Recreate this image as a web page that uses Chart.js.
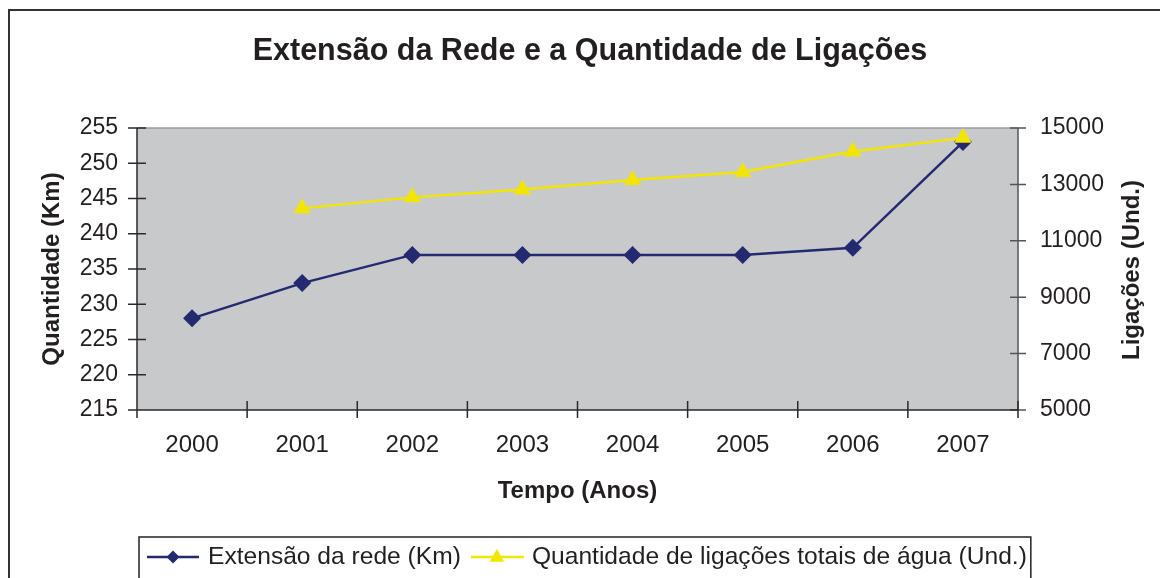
<!DOCTYPE html>
<html>
<head>
<meta charset="utf-8">
<script src="https://cdn.jsdelivr.net/npm/chart.js@4.4.0/dist/chart.umd.min.js"></script>
<style>
  html, body { margin: 0; padding: 0; background: #fff; }
  canvas { display: block; }
</style>
</head>
<body>
<canvas id="chart" width="1160" height="578"></canvas>
<script>
// data
const years = ['2000', '2001', '2002', '2003', '2004', '2005', '2006', '2007'];
const extensaoKm = [228, 233, 237, 237, 237, 237, 238, 253];
const ligacoes = [null, 12150, 12540, 12820, 13160, 13440, 14170, 14650];
const kmRange = [215, 255, 5];
const ligRange = [5000, 15000, 2000];

const FONT = "'Liberation Sans', Arial, sans-serif";
const INK = '#231f20';
const NAVY = '#232a70';
const YELLOW = '#f2e500';

function diamond(ctx, x, y, r) {
  ctx.beginPath();
  ctx.moveTo(x, y - r);
  ctx.lineTo(x + r, y);
  ctx.lineTo(x, y + r);
  ctx.lineTo(x - r, y);
  ctx.closePath();
  ctx.fill();
}

function triangle(ctx, x, y, r) {
  ctx.beginPath();
  ctx.moveTo(x, y - r);
  ctx.lineTo(x + r * 0.9, y + r * 0.6);
  ctx.lineTo(x - r * 0.9, y + r * 0.6);
  ctx.closePath();
  ctx.fill();
}

const frame = {
  id: 'frame',
  beforeDraw(chart) {
    const {ctx, chartArea: a} = chart;
    ctx.save();
    ctx.fillStyle = '#fff';
    ctx.fillRect(0, 0, chart.width, chart.height);
    ctx.fillStyle = '#c8c9cb';
    ctx.fillRect(a.left, a.top, a.right - a.left, a.bottom - a.top);
    // outer chart border
    ctx.strokeStyle = '#333';
    ctx.lineWidth = 2;
    ctx.strokeRect(9, 10, 1200, 700);
    ctx.restore();
  },
  beforeDatasetsDraw(chart) {
    const {ctx, chartArea: a, scales} = chart;
    ctx.save();
    ctx.lineWidth = 1.5;
    // plot border top
    ctx.strokeStyle = '#9a9a9a';
    ctx.beginPath();
    ctx.moveTo(a.left, a.top);
    ctx.lineTo(a.right, a.top);
    ctx.stroke();
    // right axis
    ctx.strokeStyle = '#555';
    ctx.beginPath();
    ctx.moveTo(a.right, a.top);
    ctx.lineTo(a.right, a.bottom);
    scales.y2.ticks.forEach((t, i) => {
      const py = scales.y2.getPixelForTick(i);
      ctx.moveTo(a.right - 8, py);
      ctx.lineTo(a.right + 8, py);
    });
    ctx.stroke();
    // left + bottom axes
    ctx.strokeStyle = '#2a2a2a';
    ctx.beginPath();
    ctx.moveTo(a.left, a.top);
    ctx.lineTo(a.left, a.bottom);
    ctx.lineTo(a.right, a.bottom);
    scales.y.ticks.forEach((t, i) => {
      const py = scales.y.getPixelForTick(i);
      ctx.moveTo(a.left - 9, py);
      ctx.lineTo(a.left + 9, py);
    });
    for (let i = 0; i <= years.length; i++) {
      const px = scales.x.getPixelForValue(i - 0.5);
      ctx.moveTo(px, a.bottom - 9);
      ctx.lineTo(px, a.bottom + 8);
    }
    ctx.stroke();
    ctx.restore();
  },
  afterDraw(chart) {
    const ctx = chart.ctx;
    const ds = chart.data.datasets;
    const a = chart.chartArea;
    ctx.save();

    // right axis title, reads bottom to top like the left one
    ctx.save();
    ctx.translate(1132, (a.top + a.bottom) / 2 + 1);
    ctx.rotate(-Math.PI / 2);
    ctx.font = 'bold 24px ' + FONT;
    ctx.textAlign = 'center';
    ctx.textBaseline = 'middle';
    ctx.fillStyle = INK;
    ctx.fillText('Ligações (Und.)', 0, 0);
    ctx.restore();

    ctx.font = '24.6px ' + FONT;
    ctx.textBaseline = 'middle';
    const y = 557;
    let x = 147;
    // first entry
    ctx.strokeStyle = ds[0].borderColor;
    ctx.lineWidth = 2.5;
    ctx.beginPath(); ctx.moveTo(x, y); ctx.lineTo(x + 52, y); ctx.stroke();
    ctx.fillStyle = ds[0].borderColor;
    diamond(ctx, x + 26, y, 6.5);
    x += 61;
    ctx.fillStyle = INK;
    ctx.fillText(ds[0].label, x, y);
    x += ctx.measureText(ds[0].label).width + 10;
    // second entry
    ctx.strokeStyle = ds[1].borderColor;
    ctx.beginPath(); ctx.moveTo(x, y); ctx.lineTo(x + 53, y); ctx.stroke();
    ctx.fillStyle = ds[1].borderColor;
    triangle(ctx, x + 26, y, 8);
    x += 61;
    ctx.fillStyle = INK;
    ctx.fillText(ds[1].label, x, y);
    x += ctx.measureText(ds[1].label).width + 4;
    // legend box
    ctx.strokeStyle = '#222';
    ctx.lineWidth = 1.5;
    ctx.strokeRect(139, 537, x - 139, 100);
    ctx.restore();
  }
};

new Chart(document.getElementById('chart'), {
  type: 'line',
  data: {
    labels: years,
    datasets: [
      {
        label: 'Extensão da rede (Km)',
        data: extensaoKm,
        yAxisID: 'y',
        order: 1,
        borderColor: NAVY,
        backgroundColor: NAVY,
        borderWidth: 2.5,
        pointStyle: 'rectRot',
        pointRadius: 9,
        pointBorderWidth: 0,
        tension: 0
      },
      {
        label: 'Quantidade de ligações totais de água (Und.)',
        data: ligacoes,
        yAxisID: 'y2',
        order: 0,
        borderColor: YELLOW,
        backgroundColor: YELLOW,
        borderWidth: 2.5,
        pointStyle: 'triangle',
        pointRadius: 10,
        pointBorderWidth: 0,
        tension: 0
      }
    ]
  },
  options: {
    responsive: false,
    animation: false,
    devicePixelRatio: 1,
    layout: {padding: {left: 20, right: 0, top: 0, bottom: 0}},
    plugins: {
      legend: {display: false},
      tooltip: {enabled: false},
      title: {
        display: true,
        text: 'Extensão da Rede e a Quantidade de Ligações',
        color: INK,
        font: {family: FONT, size: 30.5, weight: 'bold', lineHeight: 1.2},
        padding: {top: 33, bottom: 58.4}
      }
    },
    scales: {
      x: {
        offset: true,
        grid: {display: false},
        border: {display: false},
        ticks: {color: INK, font: {family: FONT, size: 24}, padding: 13, maxRotation: 0},
        title: {
          display: true,
          text: 'Tempo (Anos)',
          color: INK,
          font: {family: FONT, size: 24, weight: 'bold', lineHeight: 1.2},
          padding: {top: 0, bottom: 72}
        },
        afterFit(s) { s.height = 168; }
      },
      y: {
        position: 'left',
        min: kmRange[0],
        max: kmRange[1],
        grid: {display: false},
        border: {display: false},
        ticks: {stepSize: kmRange[2], color: INK, font: {family: FONT, size: 23}, padding: 11},
        title: {
          display: true,
          text: 'Quantidade (Km)',
          color: INK,
          font: {family: FONT, size: 24, weight: 'bold', lineHeight: 1.2},
          padding: {top: 18, bottom: 0}
        },
        afterFit(s) { s.width = 117; }
      },
      y2: {
        position: 'right',
        min: ligRange[0],
        max: ligRange[1],
        grid: {display: false},
        border: {display: false},
        ticks: {
          stepSize: ligRange[2],
          color: INK,
          font: {family: FONT, size: 23},
          padding: 14,
          callback: v => String(v)
        },
        title: {display: false},
        afterFit(s) { s.width = 142; }
      }
    }
  },
  plugins: [frame]
});
</script>
</body>
</html>
